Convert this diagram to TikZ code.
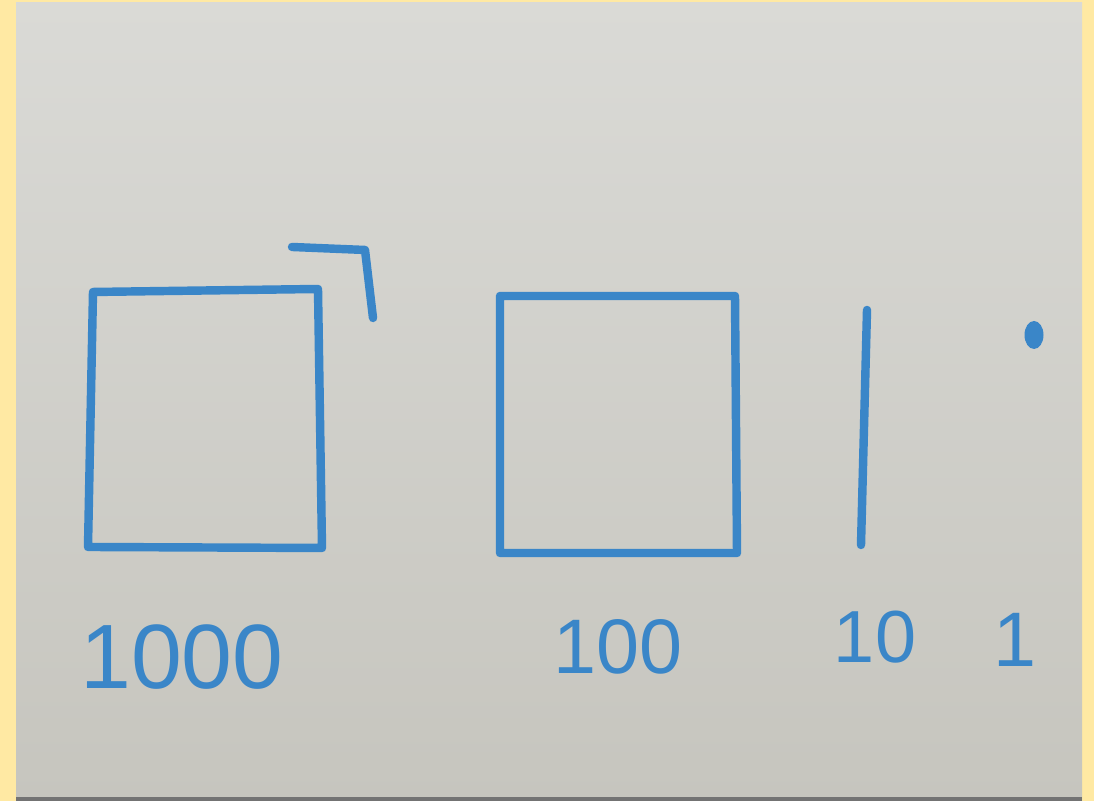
\documentclass[tikz,border=0pt]{standalone}
\usepackage{fontspec}
\setmainfont{Liberation Sans}
\usepackage{tikz}
\usetikzlibrary{arrows.meta}
\usepackage{xcolor}
\definecolor{frameyellow}{RGB}{255,233,163}
\definecolor{boardtop}{RGB}{218,218,214}
\definecolor{boardmid}{RGB}{226,226,222}
\definecolor{boardbot}{RGB}{198,197,190}
\definecolor{marker}{RGB}{58,134,200}

\begin{document}
\begin{tikzpicture}[line cap=round,line join=round,
  pen/.style={marker,line width=2.4pt},
  digits/.style={marker,inner sep=0pt,font=\fontsize{26}{28}\selectfont}]
\useasboundingbox (0,0) rectangle (10.94,8.01);
\fill[frameyellow] (0,0) rectangle (10.94,8.01);
\shade[top color=boardtop,middle color=boardmid,bottom color=boardbot] (0.16,0) rectangle (10.82,7.98);
\fill[black!55] (0.16,0) rectangle (10.82,0.04);
% thousand
\draw[pen] (0.93,5.09) -- (3.18,5.12) -- (3.22,2.53) -- (0.88,2.54) -- cycle;
\draw[pen] (2.92,5.54) -- (3.65,5.51) -- (3.73,4.83);
% hundred
\draw[pen] (5.00,5.05) -- (7.35,5.05) -- (7.37,2.48) -- (5.00,2.48) -- cycle;
% ten
\draw[pen] (8.67,4.91) -- (8.61,2.56);
% one
\fill[marker] (10.34,4.66) ellipse (0.095 and 0.14);
\node[digits] (th) at (1.82,1.44) {1000};
\node[digits,font=\fontsize{22}{24}\selectfont] (hu) at (6.18,1.54) {100};
\node[digits,font=\fontsize{21}{23}\selectfont] (te) at (8.75,1.64) {10};
\node[digits,font=\fontsize{22}{24}\selectfont] (on) at (10.15,1.61) {1};
\end{tikzpicture}
\end{document}
